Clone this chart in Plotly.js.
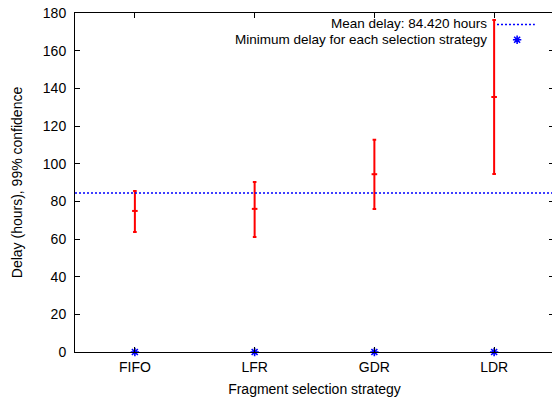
<!DOCTYPE html>
<html>
<head>
<meta charset="utf-8">
<script src="https://cdn.plot.ly/plotly-3.0.1.min.js"></script>
<style>
html,body{margin:0;padding:0;background:#fff;overflow:hidden;width:552px;height:401px;}
#chart{width:556px;height:401px;}
</style>
</head>
<body>
<div id="chart"></div>
<script>
// Data
const strategies = ["FIFO", "LFR", "GDR", "LDR"];
const meanDelayPerStrategy = [74.9, 76.0, 94.4, 135.4];
const upperBound = [85.5, 90.3, 112.7, 176.3];
const lowerBound = [63.7, 61.0, 75.9, 94.5];
const minimumDelay = [0, 0, 0, 0];
const overallMeanDelay = 84.420;
const yTicks = [0, 20, 40, 60, 80, 100, 120, 140, 160, 180];

const xIdx = strategies.map((_, i) => i + 1);
const errPlus = upperBound.map((u, i) => u - meanDelayPerStrategy[i]);
const errMinus = lowerBound.map((l, i) => meanDelayPerStrategy[i] - l);

const FONT = "Liberation Sans, Arial, Helvetica, sans-serif";
const FS = 14;
const LEG_FS = 13.5;

const traces = [
  {
    type: "scatter",
    mode: "markers",
    x: xIdx,
    y: meanDelayPerStrategy,
    showlegend: false,
    marker: {symbol: "line-ew", size: 4, color: "#ff0000", line: {color: "#ff0000", width: 2}},
    error_y: {
      type: "data",
      symmetric: false,
      array: errPlus,
      arrayminus: errMinus,
      color: "#ff0000",
      thickness: 2,
      width: 1.8
    },
    cliponaxis: false
  },
  {
    type: "scatter",
    mode: "markers",
    x: xIdx,
    y: minimumDelay,
    showlegend: false,
    marker: {symbol: "asterisk-open", size: 7, color: "#0000ff", line: {color: "#0000ff", width: 1.6}},
    cliponaxis: false
  },
  // legend sample for minimum delay (positioned via hidden secondary axes)
  {
    type: "scatter",
    mode: "markers",
    x: [0.5],
    y: [0.5],
    xaxis: "x2",
    yaxis: "y2",
    showlegend: false,
    hoverinfo: "skip",
    marker: {symbol: "asterisk-open", size: 7, color: "#0000ff", line: {color: "#0000ff", width: 1.6}},
    cliponaxis: false
  }
];

const layout = {
  width: 556,
  height: 401,
  margin: {l: 75, r: 2, t: 13, b: 49},
  paper_bgcolor: "#ffffff",
  plot_bgcolor: "#ffffff",
  showlegend: false,
  font: {family: FONT, size: FS, color: "#000000"},
  xaxis: {
    type: "linear",
    range: [0.5, 4.5],
    tickmode: "array",
    tickvals: xIdx,
    ticktext: strategies,
    ticks: "inside",
    ticklen: 5,
    tickcolor: "#000",
    showline: true,
    linecolor: "#000",
    linewidth: 1,
    mirror: "ticks",
    showgrid: false,
    zeroline: false,
    ticklabelstandoff: 2,
    tickfont: {family: FONT, size: FS, color: "#000"},
    title: {text: "Fragment selection strategy", font: {family: FONT, size: FS, color: "#000"}, standoff: 10}
  },
  yaxis: {
    range: [0, 180],
    tickmode: "array",
    tickvals: yTicks,
    ticks: "inside",
    ticklen: 5,
    tickcolor: "#000",
    showline: true,
    linecolor: "#000",
    linewidth: 1,
    mirror: "ticks",
    showgrid: false,
    zeroline: false,
    ticklabelstandoff: 5,
    tickfont: {family: FONT, size: FS, color: "#000"},
    title: {text: "Delay (hours), 99% confidence", font: {family: FONT, size: FS, color: "#000"}, standoff: 16}
  },
  xaxis2: {domain: [0.913, 0.933], range: [0, 1], visible: false, anchor: "y2"},
  yaxis2: {domain: [0.911, 0.931], range: [0, 1], visible: false, anchor: "x2"},
  shapes: [
    {
      type: "line",
      xref: "paper", x0: 0, x1: 1,
      yref: "y", y0: overallMeanDelay, y1: overallMeanDelay,
      line: {color: "#0000ff", width: 1.5, dash: "2px,2px"}
    },
    {
      type: "line",
      xref: "paper", x0: 0.881, x1: 0.96,
      yref: "paper", y0: 0.9661, y1: 0.9661,
      line: {color: "#0000ff", width: 1.5, dash: "2px,2px"}
    }
  ],
  annotations: [
    {
      xref: "paper", yref: "paper", x: 0.862, y: 0.9676,
      xanchor: "right", yanchor: "middle", showarrow: false,
      borderpad: 0,
      text: "Mean delay: " + overallMeanDelay.toFixed(3) + " hours",
      font: {family: FONT, size: LEG_FS, color: "#000"}
    },
    {
      xref: "paper", yref: "paper", x: 0.862, y: 0.9207,
      xanchor: "right", yanchor: "middle", showarrow: false,
      borderpad: 0,
      text: "Minimum delay for each selection strategy",
      font: {family: FONT, size: LEG_FS, color: "#000"}
    }
  ]
};

Plotly.newPlot("chart", traces, layout, {staticPlot: true, displayModeBar: false});
</script>
</body>
</html>
